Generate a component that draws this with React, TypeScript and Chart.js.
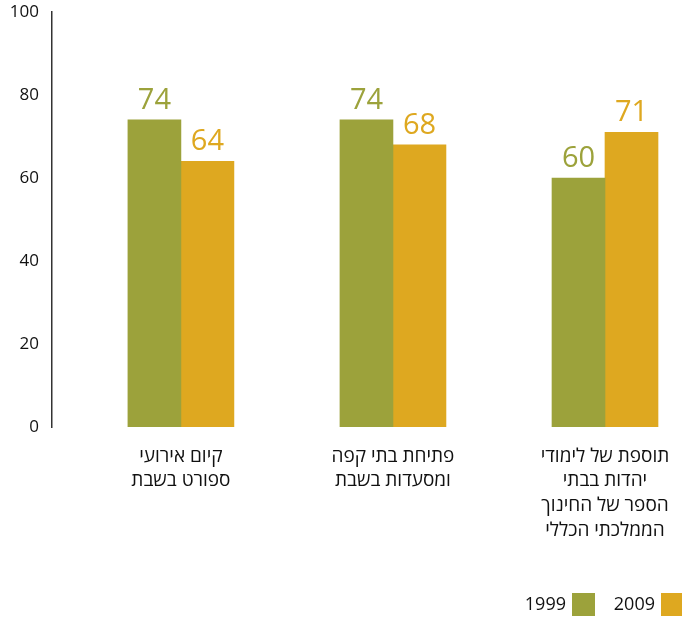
import React, { useEffect, useRef } from "react";
import { Chart, registerables } from "chart.js";

Chart.register(...registerables);

const categories: string[][] = [
  ["קיום אירועי", "ספורט בשבת"],
  ["פתיחת בתי קפה", "ומסעדות בשבת"],
  ["תוספת של לימודי", "יהדות בבתי", "הספר של החינוך", "הממלכתי הכללי"],
];
const series1999: number[] = [74, 74, 60];
const series2009: number[] = [64, 68, 71];
const yTicks: number[] = [0, 20, 40, 60, 80, 100];
const legendLabels: string[] = ["1999", "2009"];

const GREEN = "#9ca23b";
const GOLD = "#dea820";
const FONT = "'Open Sans', 'DejaVu Sans', 'Liberation Sans', sans-serif";

const valueLabels = {
  id: "valueLabels",
  afterDatasetsDraw(chart: any) {
    const ctx = chart.ctx;
    ctx.save();
    ctx.font = `500 29px ${FONT}`;
    ctx.textAlign = "center";
    ctx.textBaseline = "alphabetic";
    chart.data.datasets.forEach((ds: any, di: number) => {
      const meta = chart.getDatasetMeta(di);
      ctx.fillStyle = ds.backgroundColor;
      meta.data.forEach((el: any, i: number) => {
        ctx.fillText(String(ds.data[i].y), el.x, el.y - 11);
      });
    });
    ctx.restore();
  },
};

const customLegend = {
  id: "customLegend",
  afterDraw(chart: any) {
    const ctx = chart.ctx;
    ctx.save();
    ctx.font = `500 18px ${FONT}`;
    ctx.textAlign = "right";
    ctx.textBaseline = "middle";
    const items = [
      { text: legendLabels[0], color: GREEN, boxX: 572 },
      { text: legendLabels[1], color: GOLD, boxX: 661 },
    ];
    items.forEach((it) => {
      ctx.fillStyle = it.color;
      ctx.fillRect(it.boxX, 593, 23, 23);
      ctx.fillStyle = "#111";
      ctx.fillText(it.text, it.boxX - 6, 605);
    });
    ctx.restore();
  },
};

export default function App() {
  const ref = useRef<HTMLCanvasElement | null>(null);
  useEffect(() => {
    if (!ref.current) return;
    const chart = new Chart(ref.current, {
      type: "bar",
      data: {
        datasets: [
          {
            label: legendLabels[0],
            data: series1999.map((v, i) => ({ x: i, y: v })),
            backgroundColor: GREEN,
            barThickness: 53,
          },
          {
            label: legendLabels[1],
            data: series2009.map((v, i) => ({ x: i, y: v })),
            backgroundColor: GOLD,
            barThickness: 53,
          },
        ],
      },
      options: {
        animation: false,
        responsive: true,
        maintainAspectRatio: false,
        layout: { padding: { left: 0, right: 10, top: 12, bottom: 75 } },
        plugins: {
          legend: { display: false },
          tooltip: { enabled: false },
        },
        scales: {
          x: {
            type: "linear",
            offset: false,
            min: -0.608,
            max: 2.316,
            grid: { display: false, drawTicks: false },
            border: { display: false },
            afterBuildTicks(scale: any) {
              scale.ticks = categories.map((_, i) => ({ value: i }));
            },
            afterFit(scale: any) {
              scale.paddingLeft = 0;
              scale.paddingRight = 0;
              scale.paddingBottom = 0;
              scale.height = 116;
            },
            ticks: {
              autoSkip: false,
              maxRotation: 0,
              padding: 17,
              color: "#111",
              font: { family: FONT, size: 19, weight: "500", lineHeight: 1.3 },
              callback: (v: any) => categories[Math.round(Number(v))] ?? "",
            },
          },
          y: {
            min: 0,
            max: 100,
            grid: { display: false, drawTicks: false },
            border: { display: true, color: "#333", width: 1.5 },
            afterBuildTicks(scale: any) {
              scale.ticks = yTicks.map((v) => ({ value: v }));
            },
            afterFit(scale: any) {
              scale.width = 52;
              scale.paddingTop = 0;
              scale.paddingBottom = 0;
            },
            ticks: {
              padding: 13,
              color: "#111",
              font: { family: FONT, size: 17, weight: "500" },
            },
          },
        },
      },
      plugins: [valueLabels, customLegend],
    } as any);
    return () => chart.destroy();
  }, []);
  return (
    <div style={{ position: "fixed", left: 0, top: 0, width: 682, height: 618, background: "#fff" }}>
      <canvas ref={ref} />
    </div>
  );
}
